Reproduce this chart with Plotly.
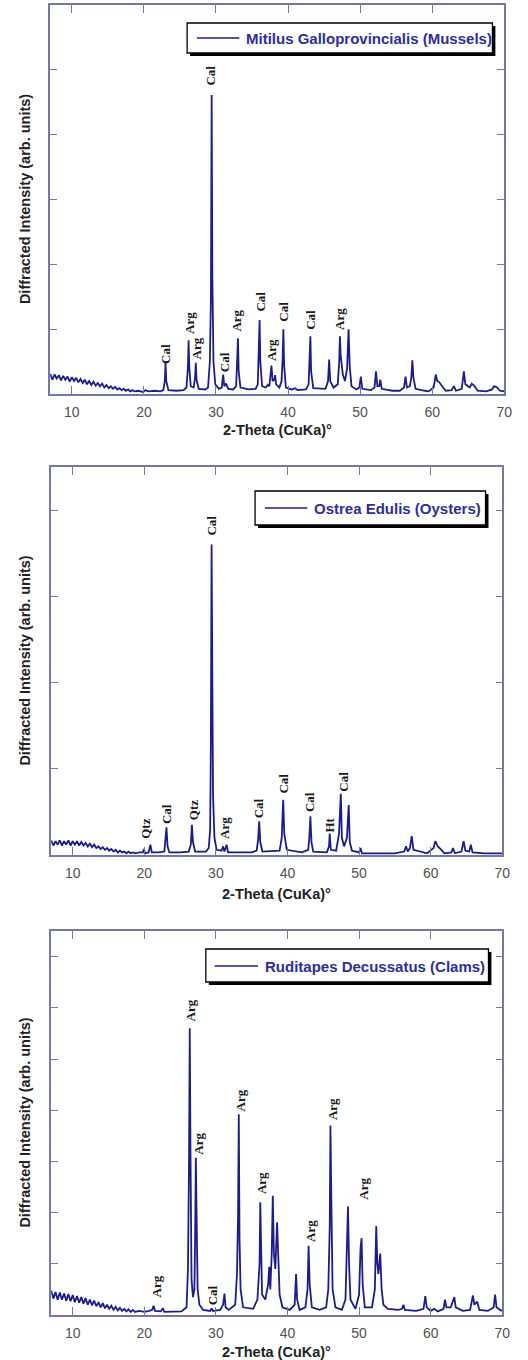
import plotly.graph_objects as go

W, H = 528, 1360

# ---------------- DATA ----------------
# Panel 1: Mitilus Galloprovincialis (Mussels)
mus_x = [7.0, 7.3, 7.6, 7.9, 8.2, 8.5, 8.8, 9.1, 9.4, 9.7, 10.0, 10.3, 10.6, 10.9, 11.2, 11.5, 11.8, 12.1,
         12.4, 12.7, 13.0, 13.3, 13.6, 13.9, 14.2, 14.5, 14.8, 15.1, 15.4, 15.7, 16.0, 16.3, 16.6, 16.9,
         17.2, 17.5, 17.8, 18.1, 18.4, 18.7,
         19.2, 19.9, 20.2, 20.6, 21.5, 22.3, 22.7, 22.9, 23.0, 23.1, 23.4, 24.5, 25.5, 25.9, 26.1, 26.2,
         26.3, 26.5, 26.9, 27.1, 27.2, 27.3, 27.6, 28.5, 28.9, 29.15, 29.3, 29.4, 29.5, 29.65, 29.9, 30.4,
         30.8, 31.0, 31.15, 31.4, 31.7, 32.4, 32.8, 32.95, 33.05, 33.15, 33.4, 34.5, 35.5, 35.8, 35.95,
         36.05, 36.15, 36.4, 36.9, 37.2, 37.4, 37.6, 37.7, 37.85, 38.1, 38.2, 38.35, 38.8, 39.1, 39.25,
         39.35, 39.45, 39.7, 40.5, 41.0, 41.3, 42.5, 42.85, 43.0, 43.1, 43.2, 43.5, 45.2, 45.55, 45.7,
         45.85, 46.3, 46.9, 47.1, 47.2, 47.3, 47.6, 47.9, 48.2, 48.4, 48.55, 48.8, 49.5, 49.9, 50.1, 50.3,
         51.5, 52.0, 52.2, 52.4, 52.65, 52.8, 53.0, 54.5, 55.5, 56.1, 56.3, 56.5, 56.9, 57.1, 57.25, 57.4,
         57.7, 59.0, 59.5, 60.2, 60.5, 60.7, 61.0, 61.5, 61.9, 62.7, 63.0, 63.3, 64.1, 64.4, 64.6, 65.2,
         65.5, 65.9, 66.3, 67.5, 68.3, 68.6, 69.0, 69.4, 70.0]
mus_y = [0.31, 0.22, 0.30, 0.24, 0.29, 0.21, 0.28, 0.22, 0.27, 0.19, 0.26, 0.20, 0.25, 0.18, 0.23, 0.17, 0.22, 0.15,
         0.20, 0.14, 0.19, 0.13, 0.17, 0.12, 0.16, 0.10, 0.14, 0.09, 0.12, 0.08, 0.11, 0.07, 0.09, 0.06,
         0.08, 0.05, 0.07, 0.04, 0.06, 0.04,
         0.05, 0.03, 0.06, 0.04, 0.05, 0.04, 0.06, 0.20, 0.49, 0.20, 0.06, 0.05, 0.06, 0.10, 0.40, 0.83,
         0.40, 0.12, 0.10, 0.25, 0.48, 0.22, 0.08, 0.07, 0.10, 0.50, 1.50, 4.61, 1.80, 0.50, 0.15, 0.08,
         0.10, 0.30, 0.12, 0.16, 0.08, 0.07, 0.12, 0.45, 0.86, 0.35, 0.10, 0.07, 0.08, 0.15, 0.60,
         1.14, 0.50, 0.12, 0.10, 0.14, 0.12, 0.30, 0.44, 0.20, 0.22, 0.29, 0.15, 0.10, 0.20, 0.55,
         1.00, 0.45, 0.10, 0.07, 0.09, 0.06, 0.07, 0.15, 0.50, 0.89, 0.35, 0.09, 0.08, 0.20, 0.53,
         0.20, 0.10, 0.15, 0.50, 0.89, 0.60, 0.30, 0.20, 0.40, 1.00, 0.45, 0.12, 0.07, 0.10, 0.27, 0.08,
         0.06, 0.10, 0.35, 0.12, 0.12, 0.22, 0.08, 0.05, 0.05, 0.10, 0.27, 0.10, 0.12, 0.25, 0.52, 0.25,
         0.08, 0.05, 0.04, 0.10, 0.30, 0.20, 0.18, 0.10, 0.05, 0.06, 0.12, 0.05, 0.08, 0.35, 0.15, 0.10,
         0.16, 0.12, 0.05, 0.04, 0.07, 0.12, 0.10, 0.05, 0.04]
mus_lab_text = ["Cal", "Arg", "Arg", "Cal", "Cal", "Arg", "Cal", "Arg", "Cal", "Cal", "Arg"]
mus_lab_x = [23.0, 26.3, 27.35, 29.3, 31.1, 32.9, 36.2, 37.8, 39.45, 43.1, 47.15]
mus_lab_y = [0.61, 1.10, 0.70, 4.91, 0.49, 1.13, 1.42, 0.68, 1.27, 1.15, 1.15]

# Panel 2: Ostrea Edulis (Oysters)
oys_x = [7.0, 7.3, 7.6, 7.9, 8.2, 8.5, 8.8, 9.1, 9.4, 9.7, 10.0, 10.3, 10.6, 10.9, 11.2, 11.5, 11.8, 12.1,
         12.4, 12.7, 13.0, 13.3, 13.6, 13.9, 14.2, 14.5, 14.8, 15.1, 15.4, 15.7, 16.0, 16.3, 16.6, 16.9,
         17.2, 17.5, 17.8, 18.1, 18.4, 18.7,
         19.3, 19.8, 19.95, 20.1, 20.6, 20.85, 21.05, 22.0, 22.8, 22.95, 23.1, 23.25, 23.5, 25.0, 26.2,
         26.5, 26.65, 26.8, 27.1, 28.6, 29.0, 29.2, 29.3, 29.4, 29.5, 29.6, 29.8, 30.1, 30.8, 31.0, 31.2,
         31.5, 31.7, 33.5, 35.0, 35.7, 35.9, 36.05, 36.2, 36.5, 38.9, 39.2, 39.4, 39.55, 39.9, 42.0, 42.9,
         43.05, 43.2, 43.35, 43.6, 45.5, 45.8, 45.9, 46.05, 46.8, 47.2, 47.45, 47.6, 47.9, 48.3, 48.55,
         48.7, 49.0, 50.0, 50.2, 50.4, 52.0, 55.0, 56.3, 56.55, 56.8, 57.1, 57.35, 57.6, 59.5, 60.4, 60.65,
         61.0, 61.5, 61.9, 62.9, 63.1, 63.4, 64.3, 64.6, 64.85, 65.4, 65.6, 65.85, 67.5, 69.0, 70.0]
oys_y = [0.17, 0.11, 0.16, 0.12, 0.17, 0.11, 0.16, 0.12, 0.17, 0.11, 0.16, 0.12, 0.16, 0.11, 0.15, 0.11, 0.14, 0.10,
         0.13, 0.09, 0.12, 0.08, 0.10, 0.07, 0.09, 0.06, 0.08, 0.05, 0.07, 0.04, 0.06, 0.03, 0.05, 0.03,
         0.04, 0.02, 0.04, 0.02, 0.03, 0.02,
         0.03, 0.03, 0.07, 0.02, 0.03, 0.12, 0.03, 0.03, 0.04, 0.15, 0.32, 0.10, 0.03, 0.03, 0.04,
         0.12, 0.35, 0.15, 0.04, 0.04, 0.08, 0.30, 1.30, 3.60, 2.40, 0.70, 0.20, 0.06, 0.05, 0.10, 0.04,
         0.12, 0.03, 0.03, 0.03, 0.05, 0.18, 0.39, 0.15, 0.04, 0.05, 0.20, 0.64, 0.25, 0.06, 0.03, 0.06,
         0.20, 0.45, 0.15, 0.04, 0.03, 0.10, 0.25, 0.06, 0.05, 0.25, 0.71, 0.20, 0.10, 0.20, 0.58,
         0.15, 0.05, 0.03, 0.08, 0.02, 0.02, 0.02, 0.04, 0.10, 0.04, 0.08, 0.22, 0.06, 0.02, 0.08, 0.16,
         0.10, 0.06, 0.02, 0.03, 0.08, 0.02, 0.04, 0.16, 0.05, 0.04, 0.12, 0.03, 0.02, 0.02, 0.02]
oys_lab_text = ["Qtz", "Cal", "Qtz", "Cal", "Arg", "Cal", "Cal", "Cal", "Ht", "Cal"]
oys_lab_x = [20.05, 23.1, 26.8, 29.45, 31.2, 36.0, 39.4, 43.1, 45.9, 47.9]
oys_lab_y = [0.30, 0.48, 0.52, 3.82, 0.32, 0.54, 0.83, 0.61, 0.35, 0.85]

# Panel 3: Ruditapes Decussatus (Clams)
clm_x = [7.0, 7.3, 7.6, 7.9, 8.2, 8.5, 8.8, 9.1, 9.4, 9.7, 10.0, 10.3, 10.6, 10.9, 11.2, 11.5, 11.8, 12.1,
         12.4, 12.7, 13.0, 13.3, 13.6, 13.9, 14.2, 14.5, 14.8, 15.1, 15.4, 15.7, 16.0, 16.3, 16.6, 16.9,
         17.2, 17.5, 17.8, 18.1, 18.4, 18.7,
         19.3, 20.0, 20.7, 21.1, 21.3, 21.5, 22.3, 22.6, 22.8, 24.0, 25.2, 25.9, 26.1, 26.25, 26.35, 26.45,
         26.6, 26.8, 27.0, 27.1, 27.2, 27.3, 27.45, 27.7, 28.2, 29.2, 29.4, 29.6, 30.6, 31.0, 31.2, 31.35,
         31.8, 32.7, 32.95, 33.1, 33.2, 33.3, 33.45, 33.8, 35.2, 35.8, 36.1, 36.2, 36.3, 36.45, 36.9, 37.3,
         37.45, 37.6, 37.8, 37.95, 38.1, 38.3, 38.55, 38.7, 38.9, 39.3, 40.3, 41.0, 41.2, 41.35, 41.7, 42.5,
         42.8, 42.95, 43.1, 43.4, 44.5, 45.4, 45.7, 45.9, 46.0, 46.15, 46.3, 46.7, 47.6, 48.1, 48.3, 48.45,
         48.6, 48.8, 49.5, 50.0, 50.2, 50.35, 50.5, 50.8, 51.8, 52.2, 52.4, 52.55, 52.7, 52.95, 53.15, 53.4,
         54.0, 55.5, 56.0, 56.2, 56.4, 58.0, 59.0, 59.25, 59.45, 60.0, 60.5, 61.0, 61.8, 62.0, 62.2, 62.8,
         63.3, 63.5, 64.5, 65.5, 65.9, 66.1, 66.5, 66.8, 68.0, 68.8, 69.0, 69.2, 69.7, 70.0]
clm_y = [0.48, 0.32, 0.45, 0.30, 0.44, 0.30, 0.42, 0.28, 0.41, 0.27, 0.39, 0.25, 0.37, 0.24, 0.35, 0.22, 0.33, 0.20,
         0.30, 0.19, 0.28, 0.17, 0.25, 0.15, 0.23, 0.13, 0.20, 0.12, 0.18, 0.10, 0.16, 0.09, 0.14, 0.08,
         0.12, 0.07, 0.11, 0.06, 0.10, 0.06,
         0.08, 0.06, 0.08, 0.10, 0.18, 0.08, 0.07, 0.13, 0.06, 0.07, 0.07, 0.15, 0.90, 3.00, 5.60, 3.20,
         0.70, 0.35, 0.50, 1.50, 3.07, 2.00, 0.50, 0.20, 0.10, 0.08, 0.13, 0.08, 0.10, 0.20, 0.42, 0.15,
         0.10, 0.20, 0.80, 2.00, 3.92, 1.50, 0.50, 0.15, 0.12, 0.30, 1.00, 2.20, 1.50, 0.40, 0.30, 0.60,
         0.94, 0.50, 1.20, 2.33, 1.20, 0.90, 1.81, 1.30, 0.40, 0.15, 0.10, 0.20, 0.80, 0.30, 0.10, 0.15,
         0.50, 1.35, 0.60, 0.15, 0.10, 0.15, 0.50, 1.70, 3.70, 2.00, 0.50, 0.15, 0.10, 0.30, 1.20, 2.12,
         1.00, 0.30, 0.12, 0.40, 1.30, 1.50, 0.60, 0.15, 0.15, 0.50, 1.74, 1.00, 0.80, 1.20, 0.50, 0.20,
         0.12, 0.10, 0.12, 0.20, 0.10, 0.08, 0.12, 0.37, 0.15, 0.08, 0.12, 0.07, 0.12, 0.30, 0.15, 0.15,
         0.35, 0.15, 0.08, 0.10, 0.38, 0.20, 0.26, 0.10, 0.08, 0.15, 0.40, 0.15, 0.10, 0.08]
clm_lab_text = ["Arg", "Arg", "Arg", "Cal", "Arg", "Arg", "Arg", "Arg", "Arg"]
clm_lab_x = [21.73, 26.4, 27.6, 29.5, 33.5, 36.4, 43.2, 46.2, 50.5]
clm_lab_y = [0.55, 5.95, 3.34, 0.39, 4.19, 2.57, 1.65, 4.02, 2.46]

series_names = ["Mitilus Galloprovincialis (Mussels)", "Ostrea Edulis (Oysters)", "Ruditapes Decussatus (Clams)"]
y_max = [6, 4.5, 7.5]
x_ticks = [10, 20, 30, 40, 50, 60, 70]
x_title = "2-Theta (CuKa)°"
y_title = "Diffracted Intensity (arb. units)"

# ---------------- LAYOUT (pixel geometry) ----------------
def px(x):
    return x / W

def py(y):
    return 1 - y / H

panels = [  # plot box in pixels: x0, x1, ytop, ybottom
    (51, 512, 5, 394),
    (52, 510, 467, 855),
    (52, 510, 931, 1315),
]
legends = [  # box x0,x1,ytop,ybottom ; line x0,x1 ; text x ; center y
    (190, 500, 23, 53, 200, 243, 248, 38),
    (259, 493, 491, 525, 269, 312, 317, 508),
    (209, 496, 949, 982, 218, 262, 267, 966),
]
xtitle_y = [430, 894, 1352]

LINE = "#1c1c8a"
FRAME = "#7478a8"
LEGTXT = "#2e2e9a"

data_sets = [
    (mus_x, mus_y, mus_lab_text, mus_lab_x, mus_lab_y),
    (oys_x, oys_y, oys_lab_text, oys_lab_x, oys_lab_y),
    (clm_x, clm_y, clm_lab_text, clm_lab_x, clm_lab_y),
]

fig = go.Figure()
layout = dict(
    width=W, height=H,
    margin=dict(l=0, r=0, t=0, b=0),
    paper_bgcolor="white", plot_bgcolor="white",
    showlegend=False,
)
annotations = []
shapes = []

for i, ((xs, ys, lt, lx, ly), (x0, x1, yt, yb), leg) in enumerate(zip(data_sets, panels, legends)):
    n = "" if i == 0 else str(i + 1)
    xa, ya = "x" + n, "y" + n
    fig.add_trace(go.Scatter(x=xs, y=ys, mode="lines", xaxis=xa, yaxis=ya,
                             line=dict(color=LINE, width=1.8), name=series_names[i],
                             hoverinfo="skip"))
    layout["xaxis" + n] = dict(
        domain=[px(x0), px(x1)], anchor=ya, range=[7, 70],
        tickvals=x_ticks, ticks="inside", ticklen=8, tickwidth=1.2, tickcolor=FRAME,
        showline=True, linecolor=FRAME, linewidth=1.5, mirror="ticks",
        showgrid=False, zeroline=False, ticklabelstandoff=4,
        tickfont=dict(family="Liberation Sans, Arial", size=14, color="#505050"),
    )
    layout["yaxis" + n] = dict(
        domain=[py(yb), py(yt)], anchor=xa, range=[0, y_max[i]],
        dtick=1, tick0=0, ticks="inside", ticklen=7, tickwidth=1.2, tickcolor=FRAME,
        showticklabels=False,
        showline=True, linecolor=FRAME, linewidth=1.5, mirror="ticks",
        showgrid=False, zeroline=False,
    )
    # peak labels
    for t, x, y in zip(lt, lx, ly):
        annotations.append(dict(x=x, y=y, xref=xa, yref=ya, text="<b>" + t + "</b>", showarrow=False,
                                textangle=-90, xanchor="center", yanchor="middle",
                                font=dict(family="Liberation Serif, Times New Roman", size=13,
                                          color="#1a1a1a")))
    # axis titles
    annotations.append(dict(x=px((x0 + x1) / 2), y=py(xtitle_y[i]), xref="paper", yref="paper",
                            text="<b>" + x_title + "</b>", showarrow=False,
                            xanchor="center", yanchor="middle",
                            font=dict(family="Liberation Sans, Arial", size=14.5, color="#222222")))
    annotations.append(dict(x=px(25), y=py((yt + yb) / 2), xref="paper", yref="paper",
                            text="<b>" + y_title + "</b>", showarrow=False, textangle=-90,
                            xanchor="center", yanchor="middle",
                            font=dict(family="Liberation Sans, Arial", size=14.5, color="#222222")))
    # legend box with drop shadow
    bx0, bx1, byt, byb, lx0, lx1, tx, cy = leg
    shapes.append(dict(type="rect", xref="paper", yref="paper", layer="above",
                       x0=px(bx0 + 3), x1=px(bx1 + 3), y0=py(byb + 3), y1=py(byt + 3),
                       fillcolor="black", line=dict(width=0)))
    shapes.append(dict(type="rect", xref="paper", yref="paper", layer="above",
                       x0=px(bx0), x1=px(bx1), y0=py(byb), y1=py(byt),
                       fillcolor="white", line=dict(color="black", width=1.3)))
    shapes.append(dict(type="line", xref="paper", yref="paper", layer="above",
                       x0=px(lx0), x1=px(lx1), y0=py(cy), y1=py(cy),
                       line=dict(color=LINE, width=1.4)))
    annotations.append(dict(x=px(tx), y=py(cy), xref="paper", yref="paper",
                            text="<b>" + series_names[i] + "</b>", showarrow=False,
                            xanchor="left", yanchor="middle",
                            font=dict(family="Liberation Sans, Arial", size=15, color=LEGTXT)))

layout["annotations"] = annotations
layout["shapes"] = shapes
fig.update_layout(**layout)
fig.write_html("out.html")
